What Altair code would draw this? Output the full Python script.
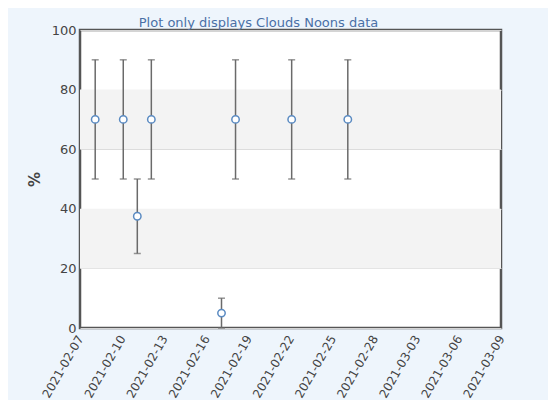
import altair as alt
import pandas as pd

dates = ["2021-02-08T02:00", "2021-02-10T02:00", "2021-02-11T02:00", "2021-02-12T02:00",
         "2021-02-17T02:00", "2021-02-18T02:00", "2021-02-22T02:00", "2021-02-26T02:00"]
values = [70, 70, 37.5, 70, 5, 70, 70, 70]
lows = [50, 50, 25, 50, 0, 50, 50, 50]
highs = [90, 90, 50, 90, 10, 90, 90, 90]

band_lo = [20, 60]
band_hi = [40, 80]

tick_dates = ["2021-02-07", "2021-02-10", "2021-02-13", "2021-02-16", "2021-02-19",
              "2021-02-22", "2021-02-25", "2021-02-28", "2021-03-03", "2021-03-06", "2021-03-09"]

df = pd.DataFrame({"date": dates, "value": values, "low": lows, "high": highs})
bands = pd.DataFrame({"lo": band_lo, "hi": band_hi})

W, H = 421, 298
FONT = "DejaVu Sans"

xscale = alt.Scale(domain=["2021-02-07T00:00", "2021-03-09T00:00"])
yscale = alt.Scale(domain=[0, 100])

xaxis = alt.Axis(
    values=[alt.DateTime(year=int(d[:4]), month=int(d[5:7]), date=int(d[8:10])) for d in tick_dates],
    format="%Y-%m-%d", labelAngle=-60, labelAlign="right", labelBaseline="middle",
    labelFontSize=12, labelColor="#444", labelFont=FONT, ticks=False, grid=False,
    domain=False, labelPadding=8, title=None, labelOverlap=False, labelBound=False,
)
yaxis = alt.Axis(
    values=[0, 20, 40, 60, 80, 100], labelFontSize=13, labelColor="#444", labelFont=FONT,
    ticks=False, domain=False, grid=True, gridColor="#d4d4d4", gridWidth=1,
    labelPadding=4, title="%", titleFontSize=15, titleFontWeight="bold", titleColor="#444",
    titleFont=FONT, titlePadding=9,
)

band_layer = alt.Chart(bands).mark_rect(color="#f3f3f3").encode(
    y=alt.Y("lo:Q", scale=yscale, axis=yaxis),
    y2="hi:Q",
    x=alt.value(0), x2=alt.value(W),
)

base = alt.Chart(df).encode(
    x=alt.X("date:T", scale=xscale, axis=xaxis),
)

rules = base.mark_rule(color="#6a6a6a", strokeWidth=1.5).encode(
    y=alt.Y("low:Q", scale=yscale, axis=yaxis), y2="high:Q"
)
cap_hi = base.mark_tick(color="#6a6a6a", orient="horizontal", size=7, thickness=1.5).encode(
    y=alt.Y("high:Q", scale=yscale)
)
cap_lo = base.mark_tick(color="#6a6a6a", orient="horizontal", size=7, thickness=1.5).encode(
    y=alt.Y("low:Q", scale=yscale)
)
points = base.mark_point(shape="circle", filled=True, fill="white", stroke="#5b8bc2",
                         strokeWidth=1.5, size=55, opacity=1).encode(
    y=alt.Y("value:Q", scale=yscale)
)

chart = alt.layer(band_layer, rules, cap_hi, cap_lo, points).properties(
    width=W, height=H,
    title=alt.TitleParams("Plot only displays Clouds Noons data", fontSize=13, color="#4a70a6",
                          font=FONT, fontWeight="normal", anchor="middle", dx=-32, offset=-6),
    background="#eef5fc",
    padding={"left": 72, "top": 22, "right": 47, "bottom": 72},
    autosize=alt.AutoSizeParams(type="none"),
).configure_view(
    stroke="#555", strokeWidth=2.5, fill="white"
)

chart.save("out.html", embed_options={"renderer": "svg", "actions": False})
